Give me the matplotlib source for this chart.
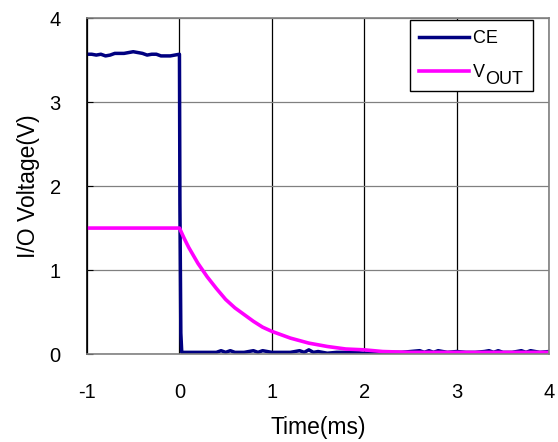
import matplotlib
matplotlib.use("Agg")
import matplotlib.pyplot as plt

plt.rcParams['font.family'] = ['Liberation Sans', 'DejaVu Sans']

# CE trace (V)
ce_time = [-1.0, -0.95, -0.9, -0.85, -0.8, -0.75, -0.7, -0.65, -0.6, -0.55,
           -0.5, -0.45, -0.4, -0.35, -0.3, -0.25, -0.2, -0.15, -0.1, -0.05,
           0.0, 0.005, 0.015, 0.025,
           0.1, 0.2, 0.3, 0.4, 0.45, 0.5, 0.55, 0.6, 0.7, 0.8, 0.85, 0.9, 0.95,
           1.0, 1.1, 1.2, 1.3, 1.35, 1.4, 1.45, 1.5, 1.6, 1.7, 1.8, 1.9, 2.0,
           2.2, 2.4, 2.6, 2.65, 2.7, 2.75, 2.8, 2.9, 3.0, 3.1, 3.2, 3.3, 3.35,
           3.4, 3.45, 3.5, 3.6, 3.7, 3.75, 3.8, 3.9, 4.0]
ce_volt = [3.57, 3.57, 3.56, 3.57, 3.55, 3.56, 3.58, 3.58, 3.58, 3.59,
           3.60, 3.59, 3.58, 3.56, 3.57, 3.57, 3.55, 3.55, 3.55, 3.56,
           3.57, 1.80, 0.25, 0.02,
           0.02, 0.02, 0.02, 0.02, 0.04, 0.02, 0.04, 0.02, 0.02, 0.04, 0.02, 0.04, 0.03,
           0.02, 0.02, 0.02, 0.04, 0.02, 0.05, 0.02, 0.03, 0.01, 0.02, 0.02, 0.02, 0.01,
           0.02, 0.02, 0.04, 0.02, 0.04, 0.02, 0.04, 0.02, 0.03, 0.02, 0.02, 0.03, 0.04,
           0.02, 0.04, 0.02, 0.02, 0.04, 0.02, 0.04, 0.02, 0.03]

# V_OUT trace (V)
vout_time = [-1.0, 0.0, 0.05, 0.1, 0.2, 0.3, 0.4, 0.5, 0.6, 0.7, 0.8, 0.9,
             1.0, 1.2, 1.4, 1.6, 1.8, 2.0, 2.2, 2.5, 3.0, 3.5, 4.0]
vout_volt = [1.50, 1.50, 1.38, 1.27, 1.08, 0.92, 0.78, 0.65, 0.55, 0.47, 0.39, 0.32,
             0.27, 0.19, 0.13, 0.09, 0.06, 0.05, 0.03, 0.02, 0.02, 0.02, 0.02]

x_ticks = [-1, 0, 1, 2, 3, 4]
y_ticks = [0, 1, 2, 3, 4]

fig = plt.figure(figsize=(5.58, 4.42), dpi=100)
ax = fig.add_axes([0.156, 0.199, 0.828, 0.760])

# trailing spaces on CE keep the legend wide enough for "V OUT"
ax.plot(ce_time, ce_volt, color='#000080', linewidth=2.5, label='CE     ')
ax.plot(vout_time, vout_volt, color='#FF00FF', linewidth=2.6, label='V')

ax.set_xlim(-1, 4)
ax.set_ylim(0, 4)
ax.set_xticks(x_ticks)
ax.set_yticks(y_ticks)
ax.set_xticklabels([str(v) for v in x_ticks])
ax.set_yticklabels([str(v) for v in y_ticks])
ax.tick_params(direction='in', length=4, labelsize=14.5)
ax.tick_params(axis='y', pad=19)
ax.tick_params(axis='x', length=0, pad=21)

# grid: black verticals, grey horizontals
ax.xaxis.grid(True, color='black', linewidth=0.9)
ax.yaxis.grid(True, color='#808080', linewidth=0.9)
ax.set_axisbelow(True)

for side in ['top', 'right', 'bottom']:
    ax.spines[side].set_color('#808080')
    ax.spines[side].set_linewidth(1.2)
ax.spines['left'].set_color('black')
ax.spines['left'].set_linewidth(1.2)

ax.set_xlabel('Time(ms)', fontsize=16.5, labelpad=10)
ax.set_ylabel('I/O Voltage(V)', fontsize=16.5, labelpad=7)

leg = ax.legend(loc='upper right', fontsize=13, frameon=True, fancybox=False,
                edgecolor='black', framealpha=1, handlelength=2.77,
                handletextpad=0.2, borderpad=0.55, labelspacing=0.93,
                borderaxespad=0, bbox_to_anchor=(0.965, 0.994))
leg.get_frame().set_linewidth(1.0)

# subscript OUT right after the V, same size, dropped a little
vtext = leg.get_texts()[1]
ax.annotate('OUT', xy=(1, 0), xycoords=vtext, xytext=(0.3, -5),
            textcoords='offset points', fontsize=13, ha='left', va='bottom',
            zorder=10)

fig.savefig('out.png', dpi=100)
